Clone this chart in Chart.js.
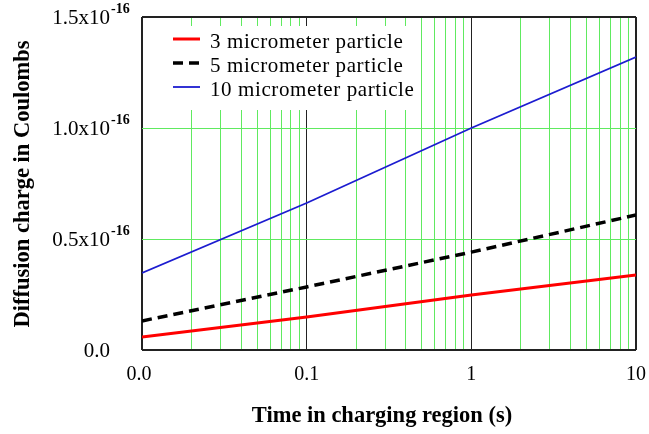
<!DOCTYPE html>
<html>
<head>
<meta charset="utf-8">
<script src="https://cdn.jsdelivr.net/npm/chart.js@4/dist/chart.umd.min.js"></script>
<style>
  html, body { margin: 0; padding: 0; background: #fff; }
  #wrap { width: 649px; height: 434px; }
</style>
</head>
<body>
<div id="wrap"><canvas id="myChart" width="649" height="434"></canvas></div>
<script>
// time in charging region (s), log axis
const times = [0.01, 0.1, 1, 10];
// diffusion charge, in units of 1e-16 C
const charge3um = [0.059, 0.149, 0.248, 0.338];
const charge5um = [0.131, 0.284, 0.441, 0.608];
const charge10um = [0.347, 0.662, 1.0, 1.32];

const seriesLabels = ['3 micrometer particle', '5 micrometer particle', '10 micrometer particle'];
const xTickLabels = ['0.0', '0.1', '1', '10'];   // at 0.01, 0.1, 1, 10
const yTickValues = [0, 0.5, 1.0, 1.5];
const yTickLabels = ['0.0', '0.5x10', '1.0x10', '1.5x10'];
const yTickExp = ['', '-16', '-16', '-16'];

const xTitle = 'Time in charging region (s)';
const yTitle = 'Diffusion charge in Coulombs';

const green = '#60ea60';
const serif = '"Liberation Serif", "Times New Roman", serif';
const isDecade = v => Math.abs(Math.log10(v) - Math.round(Math.log10(v))) < 1e-6;

// all the text is drawn here, placed with the chart's own scales
const labelsPlugin = {
    id: 'labels',
    afterDraw(chart) {
        const c = chart.ctx;
        const xs = chart.scales.x, ys = chart.scales.y;
        c.save();
        c.fillStyle = '#000';

        // y ticks with superscript exponent
        yTickValues.forEach((v, i) => {
            const y = ys.getPixelForValue(v);
            c.font = '21px ' + serif;
            c.textAlign = 'right';
            c.textBaseline = 'middle';
            c.fillText(yTickLabels[i], 110, y + 1);
            if (yTickExp[i]) {
                c.font = 'bold 14px ' + serif;
                c.textAlign = 'left';
                c.fillText(yTickExp[i], 111, y - 8);
            }
        });

        // x ticks
        c.font = '20px ' + serif;
        c.textAlign = 'center';
        c.textBaseline = 'middle';
        times.forEach((t, i) => {
            c.fillText(xTickLabels[i], xs.getPixelForValue(t) - (i === 0 ? 3 : 0), 375);
        });

        // axis titles
        c.font = 'bold 22.5px ' + serif;
        c.fillText(xTitle, 382, 416);
        c.translate(23, 184);
        c.rotate(-Math.PI / 2);
        c.fillText(yTitle, 0, 0);
        c.restore();

        // legend box inside the plot
        c.save();
        c.fillStyle = '#fff';
        c.fillRect(150, 26, 270, 84);
        const rows = [42, 66, 90];
        chart.data.datasets.forEach((ds, i) => {
            c.beginPath();
            c.strokeStyle = ds.borderColor;
            c.lineWidth = ds.borderWidth;
            c.setLineDash(ds.borderDash || []);
            c.moveTo(173, rows[i] - 3);
            c.lineTo(200, rows[i] - 3);
            c.stroke();
            c.setLineDash([]);
            c.fillStyle = '#000';
            c.font = '21px ' + serif;
            c.letterSpacing = '0.6px';
            c.textAlign = 'left';
            c.textBaseline = 'middle';
            c.fillText(ds.label, 210, rows[i]);
        });
        c.restore();
    }
};

const ctx = document.getElementById('myChart').getContext('2d');
const myChart = new Chart(ctx, {
    type: 'line',
    data: {
        datasets: [
            {
                label: seriesLabels[0],
                data: times.map((t, i) => ({ x: t, y: charge3um[i] })),
                borderColor: '#ff0000',
                borderWidth: 3,
                pointRadius: 0,
                tension: 0
            },
            {
                label: seriesLabels[1],
                data: times.map((t, i) => ({ x: t, y: charge5um[i] })),
                borderColor: '#000000',
                borderWidth: 3.5,
                borderDash: [10, 6],
                pointRadius: 0,
                tension: 0
            },
            {
                label: seriesLabels[2],
                data: times.map((t, i) => ({ x: t, y: charge10um[i] })),
                borderColor: '#1c1cd0',
                borderWidth: 1.8,
                pointRadius: 0,
                tension: 0
            }
        ]
    },
    options: {
        responsive: false,
        animation: false,
        layout: { padding: { left: 142, right: 13, top: 17, bottom: 84 } },
        plugins: { legend: { display: false }, tooltip: { enabled: false } },
        scales: {
            x: {
                type: 'logarithmic',
                min: 0.01,
                max: 10,
                afterBuildTicks: scale => {
                    const ticks = [];
                    [0.01, 0.1, 1].forEach(d => {
                        for (let k = 1; k < 10; k++) ticks.push({ value: d * k });
                    });
                    ticks.push({ value: 10 });
                    scale.ticks = ticks;
                },
                ticks: { display: false },
                border: { display: false },
                grid: {
                    drawTicks: false,
                    color: c => isDecade(c.tick.value) ? '#222' : green,
                    lineWidth: c => (c.tick.value === 0.01 || c.tick.value === 10) ? 2 : 1
                }
            },
            y: {
                min: 0,
                max: 1.5,
                ticks: { display: false, stepSize: 0.5 },
                border: { display: false },
                grid: {
                    drawTicks: false,
                    color: c => (c.tick.value === 0 || c.tick.value === 1.5) ? '#222' : green,
                    lineWidth: c => (c.tick.value === 0 || c.tick.value === 1.5) ? 2 : 1
                }
            }
        }
    },
    plugins: [labelsPlugin]
});
</script>
</body>
</html>
